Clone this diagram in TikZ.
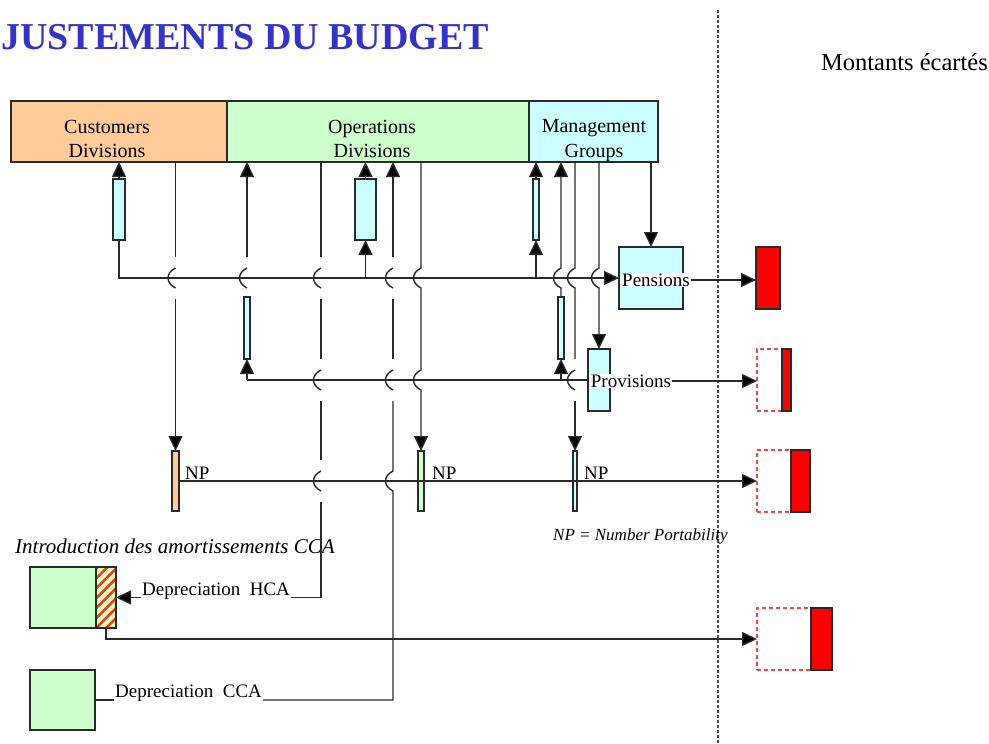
\documentclass[tikz,border=0pt]{standalone}
\usepackage{fontspec}
\setmainfont{Liberation Serif}
\usetikzlibrary{arrows.meta,fit,patterns.meta}

\definecolor{peach}{HTML}{FFCC99}
\definecolor{mint}{HTML}{CCFFCC}
\definecolor{ice}{HTML}{CCFFFF}
\definecolor{wirecol}{HTML}{2A2A2A}
\definecolor{titleblue}{HTML}{3333CC}
\definecolor{hatchred}{HTML}{FF3300}

\begin{document}
\begin{tikzpicture}[x=1pt,y=-1pt,
  wire/.style={draw=wirecol, line width=1.4pt},
  arr/.style={-{Triangle[length=15pt,width=14pt,fill=black]}},
  box/.style={draw=wirecol, line width=1.4pt, inner sep=0pt, outer sep=0pt},
  lbl/.style={font=\fontsize{20}{24}\selectfont, inner sep=1pt},
  slbl/.style={font=\fontsize{19}{22}\selectfont, inner sep=1pt},
  ghost/.style={draw=red!75, line width=1.4pt, dash pattern=on 4pt off 3pt, inner sep=0pt, outer sep=0pt},
  amount/.style={box, fill=red},
  hop/.pic={\draw[wire] (0,-10) .. controls (-10,-5) and (-10,5) .. (0,10);}
]
\useasboundingbox (0,0) rectangle (989,744);

% column positions of the vertical links
\coordinate (xC) at (321,0);
\coordinate (xD) at (393,0);

% separator
\coordinate (divtop) at (718,10);
\coordinate (divbot) at (718,744);
\draw[draw=gray!60!black, line width=1.3pt, dash pattern=on 3pt off 2pt] (divtop) -- (divbot);

% headings
\node[anchor=base west, font=\fontsize{38}{40}\selectfont\bfseries, text=titleblue, inner sep=0pt] (title) at (1,49) {JUSTEMENTS DU BUDGET};
\node[anchor=base east, font=\fontsize{24.5}{28}\selectfont, inner sep=0pt] (montants) at (988,70) {Montants écartés};

% organisation boxes
\node[box, fill=peach, fit={(11,101)(227,162)}] (cust) {};
\node[box, fill=mint, fit={(227,101)(529,162)}] (ops) {};
\node[box, fill=ice, fit={(529,101)(658,162)}] (mgmt) {};
\node[lbl, anchor=base] (custA) at (107,133) {Customers};
\node[lbl, anchor=base] (custB) at (107,157) {Divisions};
\node[lbl, anchor=base] (opsA) at (372,133) {Operations};
\node[lbl, anchor=base] (opsB) at (372,157) {Divisions};
\node[lbl, anchor=base] (mgmtA) at (594,132) {Management};
\node[lbl, anchor=base] (mgmtB) at (594,157) {Groups};

% small transfer bars
\node[box, fill=ice, fit={(113,179)(125,240)}] (bar1) {};
\node[box, fill=ice, fit={(355,179)(376,240)}] (bar2) {};
\node[box, fill=ice, fit={(533,179)(539,240)}] (bar3) {};
\node[box, fill=ice, fit={(244,297)(250,359)}] (bar4) {};
\node[box, fill=ice, fit={(558,297)(564,359)}] (bar5) {};

% pensions and provisions
\node[box, fill=ice, fit={(619,247)(683,309)}] (pens) {};
\node[box, fill=ice, fit={(588,349)(610,411)}] (prov) {};

% number portability bars
\node[box, fill=peach, fit={(172,451)(179,511)}] (np1) {};
\node[box, fill=mint, fit={(418,451)(424,511)}] (np2) {};
\node[box, fill=ice, fit={(573,451)(577,511)}] (np3) {};

% amounts set aside
\node[amount, fit={(756,247)(780,309)}] (red1) {};
\node[ghost, fit={(757,349)(782,411)}] (ghost2) {};
\node[amount, fit={(782,349)(791,411)}] (red2) {};
\node[ghost, fit={(757,450)(791,512)}] (ghost3) {};
\node[amount, fit={(791,450)(810,512)}] (red3) {};
\node[ghost, fit={(757,608)(811,670)}] (ghost4) {};
\node[amount, fit={(811,608)(832,670)}] (red4) {};

% depreciation boxes
\node[box, fill=mint, fit={(30,567)(96,628)}] (hcabox) {};
\node[box, preaction={fill=mint}, pattern={Lines[angle=45,distance=7pt,line width=2.5pt]}, pattern color=hatchred, fit={(96,567)(116,628)}] (hatch) {};
\node[box, fill=mint, fit={(30,670)(95,730)}] (ccabox) {};

% free labels
\node[anchor=base west, font=\fontsize{21}{24}\selectfont\itshape, inner sep=0pt] (intro) at (15,553) {Introduction des amortissements CCA};
\node[anchor=base west, font=\fontsize{17}{19}\selectfont\itshape, inner sep=0pt] (nplegend) at (553,540) {NP = Number Portability};
\node[slbl, anchor=base west] (npA) at (184,479) {NP};
\node[slbl, anchor=base west] (npB) at (431,479) {NP};
\node[slbl, anchor=base west] (npC) at (583,479) {NP};
\node[slbl, anchor=base west] (hcatxt) at (141,595) {Depreciation~~HCA};
\node[slbl, anchor=base west] (ccatxt) at (114,697) {Depreciation~~CCA};

% pensions line
\draw[wire, arr] (bar1.north) -- (cust.south -| bar1.north);
\draw[wire, arr] (bar1.south) |- (pens.west);
\draw[wire, arr] (bar2.north) -- (ops.south -| bar2.north);
\draw[wire, arr] (bar2.south |- pens.west) -- (bar2.south);
\draw[wire, arr] (bar3.north) -- (mgmt.south -| bar3.north);
\draw[wire, arr] (bar3.south |- pens.west) -- (bar3.south);

% provisions line
\draw[wire] (bar4.south |- prov.west) -- (prov.west);
\draw[wire, arr] (bar4.south |- prov.west) -- (bar4.south);
\draw[wire, arr] (bar5.south |- prov.west) -- (bar5.south);
\draw[wire, arr] (247,257) -- (ops.south -| bar4.north);
\pic at (247,278) {hop};
\draw[wire, arr] (bar5.north) -- (561,288) .. controls (551,283) and (551,273) .. (561,268) -- (mgmt.south -| bar5.north);

% customers to NP
\draw[wire] (cust.south -| np1.north) -- (175.5,257);
\pic at (175.5,278) {hop};
\draw[wire, arr] (175.5,299) -- (np1.north);

% operations to NP
\draw[wire, arr] (ops.south -| np2.north) -- (421,268) .. controls (411,273) and (411,283) .. (421,288) -- (421,370) .. controls (411,375) and (411,385) .. (421,390) -- (np2.north);

% management to NP, provisions, pensions
\draw[wire] (mgmt.south -| np3.north) -- (575,268) .. controls (565,273) and (565,283) .. (575,288) -- (575,359);
\pic at (575,380) {hop};
\draw[wire, arr] (575,401) -- (np3.north);
\draw[wire, arr] (mgmt.south -| prov.north) -- (599,268) .. controls (589,273) and (589,283) .. (599,288) -- (prov.north);
\draw[wire, arr] (mgmt.south -| pens.north) -- (pens.north);

% depreciation HCA link
\draw[wire] (ops.south -| xC) -- (321,257);
\pic at (321,278) {hop};
\draw[wire] (321,299) -- (321,359);
\pic at (321,380) {hop};
\draw[wire] (321,401) -- (321,460);
\pic at (321,481) {hop};
\draw[wire] (321,502) -- (hatch.east -| xC) -- (hcatxt.east |- hatch.east);
\draw[wire, arr] (hcatxt.west |- hatch.east) -- (hatch.east);

% depreciation CCA link
\draw[wire] (ccabox.east) -- (ccatxt.west |- ccabox.east);
\draw[wire] (ccatxt.east |- ccabox.east) -- (ccabox.east -| xD) -- (393,491) .. controls (383,486) and (383,476) .. (393,471) -- (393,401);
\pic at (393,380) {hop};
\draw[wire] (393,359) -- (393,299);
\pic at (393,278) {hop};
\draw[wire, arr] (393,257) -- (ops.south -| xD);

% NP line
\draw[wire, arr] (np1.east) -- (ghost3.west);

% outgoing amounts
\node[slbl, fill=white] (penstxt) at (656,280) {Pensions};
\node[slbl, fill=white] (provtxt) at (631,381) {Provisions};
\draw[wire, arr] (penstxt.east) -- (red1.west |- penstxt.east);
\draw[wire, arr] (provtxt.east) -- (ghost2.west |- provtxt.east);
\draw[wire, arr] (hatch.south) |- (ghost4.west);
\end{tikzpicture}
\end{document}
